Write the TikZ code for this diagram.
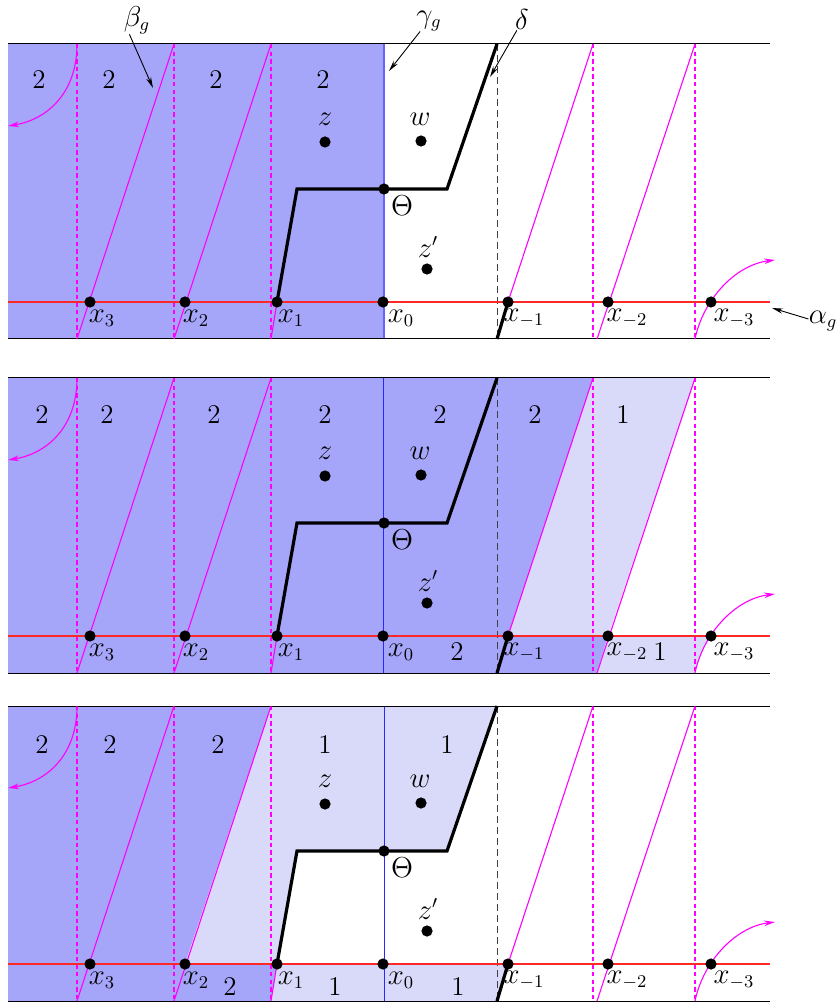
\documentclass[tikz,border=0pt]{standalone}
\usetikzlibrary{arrows.meta}
\definecolor{darkb}{RGB}{165,165,250}
\definecolor{lightb}{RGB}{217,217,250}
\definecolor{mag}{RGB}{255,0,255}
\definecolor{alred}{RGB}{255,40,40}
\definecolor{gamA}{RGB}{100,100,255}
\definecolor{gamB}{RGB}{40,40,255}
\tikzset{
 magline/.style={mag, line width=0.55pt},
 magdash/.style={mag, line width=0.6pt, dash pattern=on 2.2pt off 1.6pt},
 blkdash/.style={black!75, line width=0.5pt, dash pattern=on 3.5pt off 2pt},
 redline/.style={alred, line width=0.6pt},
 rim/.style={black, line width=0.5pt},
 deltaline/.style={black, line width=1.6pt, line join=miter},
 dot/.style={circle, fill=black, inner sep=0pt, minimum size=5.6pt},
 lab/.style={inner sep=0pt, font=\fontsize{13.5}{16}\selectfont},
 ptr/.style={-{Stealth[length=5.5pt,width=2.6pt]}, line width=0.45pt},
 magarrow/.style={mag, line width=0.55pt, -{Stealth[length=5.5pt,width=2.8pt]}},
}
\newcommand\panelbase[1]{%
 \foreach \xx in {77,174,271,593,695} {\draw[magdash] (\xx,44) -- (\xx,339);}
 \draw[blkdash] (497,44) -- (497,339);
 \draw[redline] (8,302) -- (770,302);
 \draw[rim] (8,44) -- (770,44);
 \draw[rim] (8,339) -- (770,339);
 \coordinate (#1cx3) at (90,302);
 \coordinate (#1cx2) at (185,302);
 \coordinate (#1cx1) at (277,302);
 \coordinate (#1cx0) at (383,302);
 \coordinate (#1cxm1) at (508,302);
 \coordinate (#1cxm2) at (608,302);
 \coordinate (#1cxm3) at (711,302);
 \coordinate (#1cth) at (384,189);
 \draw[magline] (77,339) -- (174,44);
 \draw[magline] (174,339) -- (271,44);
 \draw[magline] (271,339) -- (#1cx1);
 \draw[magline] (#1cxm1) -- (593,44);
 \draw[magline] (597,339) -- (695,44);
 \draw[magarrow] (695,339) .. controls (703,300) and (735,265) .. (775,260);
 \draw[magarrow] (77,44) .. controls (77,95) and (45,120) .. (8,126);
 \draw[deltaline] (497,339) -- (#1cxm1);
 \draw[deltaline] (#1cx1) -- (297,189) -- (#1cth) -- (447,189) -- (497,44);
 \node[dot] (#1x3) at (#1cx3) {};
 \node[dot] (#1x2) at (#1cx2) {};
 \node[dot] (#1x1) at (#1cx1) {};
 \node[dot] (#1x0) at (#1cx0) {};
 \node[dot] (#1xm1) at (#1cxm1) {};
 \node[dot] (#1xm2) at (#1cxm2) {};
 \node[dot] (#1xm3) at (#1cxm3) {};
 \node[dot] (#1th) at (#1cth) {};
 \node[dot] (#1z) at (325,142) {};
 \node[dot] (#1w) at (421,141) {};
 \node[dot] (#1zp) at (427,269) {};
 \node[lab] (#1lz) at (325,119) {$z$};
 \node[lab] (#1lw) at (420,119) {$w$};
 \node[lab] (#1lzp) at (428,247) {$z'$};
 \node[lab] (#1lth) at (402,206) {$\Theta$};
 \node[lab] (#1lx3) at (102,318) {$x_3$};
 \node[lab] (#1lx2) at (196,318) {$x_2$};
 \node[lab] (#1lx1) at (291,318) {$x_1$};
 \node[lab] (#1lx0) at (401,318) {$x_0$};
 \node[lab] (#1lxm1) at (524,318) {$x_{-1}$};
 \node[lab] (#1lxm2) at (627,318) {$x_{-2}$};
 \node[lab] (#1lxm3) at (734,318) {$x_{-3}$};
}
\begin{document}
\begin{tikzpicture}[x=0.5pt,y=-0.5pt]
\useasboundingbox (0,0) rectangle (838,1004);
% ---------- panel 1
\begin{scope}
 \fill[darkb] (8,44) rectangle (384,339);
 \draw[gamA, line width=1pt] (384,44) -- (384,339);
 \panelbase{a}
 \foreach \xx/\nm in {39/1,109/2,216/3,323/4} {\node[lab] (an\nm) at (\xx,80) {2};}
 \node[lab] (beta) at (137,20) {$\beta_g$};
 \node[lab] (gamma) at (429,21) {$\gamma_g$};
 \node[lab] (delta) at (522,20) {$\delta$};
 \node[lab] (alpha) at (823,321) {$\alpha_g$};
 \coordinate (betatip) at (153,88);
 \coordinate (gammatip) at (389,71);
 \coordinate (deltatip) at (490,77);
 \coordinate (alphatip) at (772,308);
 \draw[ptr] ([xshift=3pt]beta.south west) -- (betatip);
 \draw[ptr] ([xshift=2pt]gamma.south west) -- (gammatip);
 \draw[ptr] ([xshift=1pt]delta.south west) -- (deltatip);
 \draw[ptr] ([yshift=1pt]alpha.west) -- (alphatip);
\end{scope}
% ---------- panel 2
\begin{scope}[shift={(0,334)}]
 \fill[darkb] (8,44) -- (593,44) -- (508,302) -- (608,302) -- (597,339) -- (8,339) -- cycle;
 \fill[lightb] (593,44) -- (695,44) -- (608,302) -- (711,302) .. controls (702,315) and (697,328) .. (695,339) -- (597,339) -- (608,302) -- (508,302) -- cycle;
 \draw[gamB, line width=0.5pt] (383,44) -- (383,339);
 \panelbase{b}
 \foreach \xx/\nm in {42/1,107/2,214/3,325/4,440/5,535/6} {\node[lab] (bn\nm) at (\xx,81) {2};}
 \node[lab] (bn7) at (623,81) {1};
 \node[lab] (bn8) at (457,318) {2};
 \node[lab] (bn9) at (660,318) {1};
\end{scope}
% ---------- panel 3
\begin{scope}[shift={(0,662)}]
 \fill[darkb] (8,44) -- (271,44) -- (185,302) -- (277,302) -- (271,339) -- (8,339) -- cycle;
 \fill[lightb] (271,44) -- (497,44) -- (447,189) -- (297,189) -- (277,302) -- (185,302) -- cycle;
 \fill[lightb] (277,302) -- (508,302) -- (497,339) -- (271,339) -- cycle;
 \draw[gamB, line width=0.5pt] (384,44) -- (384,339);
 \panelbase{c}
 \foreach \xx/\nm in {42/1,110/2,218/3} {\node[lab] (cn\nm) at (\xx,83) {2};}
 \node[lab] (cn4) at (325,83) {1};
 \node[lab] (cn5) at (447,83) {1};
 \node[lab] (cn6) at (230,325) {2};
 \node[lab] (cn7) at (335,325) {1};
 \node[lab] (cn8) at (458,325) {1};
\end{scope}
\end{tikzpicture}
\end{document}
